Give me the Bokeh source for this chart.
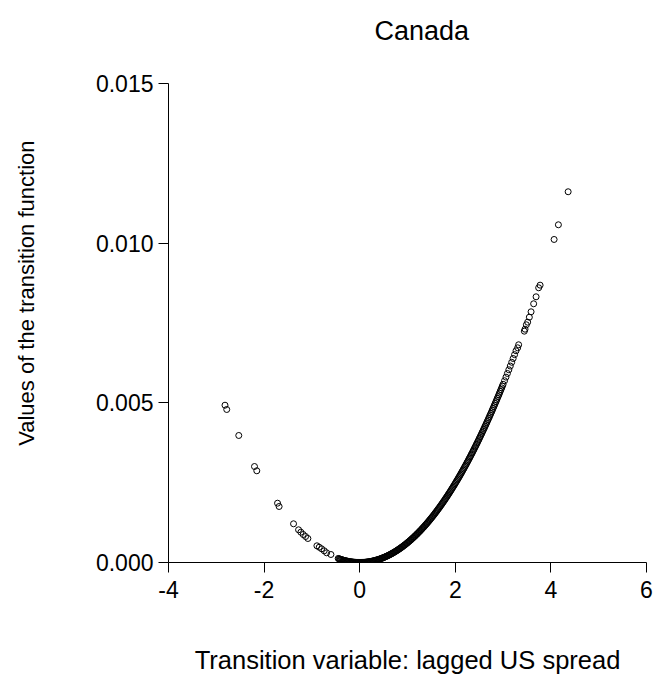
from bokeh.plotting import figure
from bokeh.models import Range1d, FixedTicker, PrintfTickFormatter, Title
from bokeh.embed import file_html
from bokeh.resources import INLINE

# Lagged US spread (transition variable) and the fitted transition function values
spread = [
    -2.818, -2.782, -2.530, -2.201, -2.153, -1.719, -1.686, -1.384, -1.279, -1.231,
    -1.182, -1.132, -1.084, -0.895, -0.847, -0.797, -0.742, -0.692, -0.602,
    -0.45, -0.42, -0.39, -0.36, -0.33, -0.30, -0.27, -0.24, -0.21, -0.18, -0.15,
    -0.12, -0.09, -0.06, -0.03, 0.00, 0.03, 0.06, 0.09, 0.12, 0.15, 0.18, 0.21,
    0.24, 0.27, 0.30, 0.33, 0.36, 0.39, 0.42, 0.45, 0.48, 0.51, 0.54, 0.57, 0.60,
    0.63, 0.66, 0.69, 0.72, 0.75, 0.78, 0.81, 0.84, 0.87, 0.90, 0.93, 0.96, 0.99,
    1.02, 1.05, 1.08, 1.11, 1.14, 1.17, 1.20, 1.23, 1.26, 1.29, 1.32, 1.35, 1.38,
    1.41, 1.44, 1.47, 1.50, 1.53, 1.56, 1.59, 1.62, 1.65, 1.68, 1.71, 1.74, 1.77,
    1.80, 1.83, 1.86, 1.89, 1.92, 1.95, 1.98, 2.01, 2.04, 2.07, 2.10, 2.13, 2.16,
    2.19, 2.22, 2.25, 2.28, 2.31, 2.34, 2.37, 2.40, 2.43, 2.46, 2.49, 2.52, 2.55,
    2.58, 2.61, 2.64, 2.67, 2.70, 2.73, 2.76, 2.79, 2.82, 2.85, 2.88, 2.91, 2.94,
    2.97, 3.00, 3.03, 3.06, 3.09, 3.12, 3.15, 3.18, 3.21, 3.24, 3.27,
    3.304, 3.325, 3.444, 3.459, 3.486, 3.514, 3.549, 3.585, 3.639, 3.690, 3.744,
    3.774, 4.067, 4.157, 4.361,
]

transition = [
    0.004926, 0.004792, 0.003978, 0.003006, 0.002872, 0.001857, 0.001754, 0.001212, 0.001024, 0.000949,
    0.000877, 0.000814, 0.000752, 0.000523, 0.000479, 0.000429, 0.000366, 0.000304, 0.000251,
    0.000126, 0.000109, 0.0000943, 0.0000804, 0.0000675, 0.0000558, 0.0000452, 0.0000357, 0.0000273, 0.0000201, 0.0000140,
    0.0000089, 0.0000050, 0.0000022, 0.0000006, 0.0, 0.0000006, 0.0000022, 0.0000050, 0.0000089, 0.0000140, 0.0000201, 0.0000273,
    0.0000357, 0.0000452, 0.0000558, 0.0000675, 0.0000804, 0.0000943, 0.000109, 0.000126, 0.000143, 0.000161, 0.000181, 0.000201, 0.000223,
    0.000246, 0.000270, 0.000295, 0.000321, 0.000349, 0.000377, 0.000407, 0.000437, 0.000469, 0.000502, 0.000536, 0.000571, 0.000608,
    0.000645, 0.000684, 0.000723, 0.000764, 0.000806, 0.000849, 0.000893, 0.000938, 0.000984, 0.001032, 0.001080, 0.001130, 0.001181,
    0.001233, 0.001286, 0.001340, 0.001395, 0.001451, 0.001509, 0.001567, 0.001627, 0.001688, 0.001750, 0.001813, 0.001877, 0.001942,
    0.002009, 0.002076, 0.002145, 0.002215, 0.002286, 0.002358, 0.002431, 0.002505, 0.002580, 0.002657, 0.002734, 0.002813, 0.002893,
    0.002974, 0.003056, 0.003139, 0.003223, 0.003308, 0.003395, 0.003482, 0.003571, 0.003661, 0.003752, 0.003844, 0.003937, 0.004032,
    0.004127, 0.004224, 0.004321, 0.004420, 0.004520, 0.004621, 0.004723, 0.004826, 0.004930, 0.005036, 0.005143, 0.005250, 0.005359,
    0.005469, 0.005580, 0.005692, 0.005805, 0.005920, 0.006035, 0.006152, 0.006270, 0.006389, 0.006509, 0.006630,
    0.006724, 0.006818, 0.007244, 0.007306, 0.007444, 0.007526, 0.007682, 0.007851, 0.008102, 0.008321, 0.008603,
    0.008685, 0.010116, 0.010576, 0.011610,
]

# Further observations inside the dense part of the curve
spread_more = [
    -0.435, -0.405, -0.375, -0.345, -0.315, -0.285, -0.255, -0.225, -0.195, -0.165,
    -0.135, -0.105, -0.075, -0.045, -0.015, 0.015, 0.045, 0.075, 0.105, 0.135,
    0.165, 0.195, 0.225, 0.255, 0.285, 0.315, 0.345, 0.375, 0.405, 0.435,
    0.465, 0.495, 0.525, 0.555, 0.585, 0.615, 0.645, 0.675, 0.705, 0.735,
    0.765, 0.795, 0.825, 0.855, 0.885, 0.915, 0.945, 0.975, 1.005, 1.035,
    1.065, 1.095, 1.125, 1.155, 1.185, 1.215, 1.245, 1.275, 1.305, 1.335,
    1.365, 1.395, 1.425, 1.455, 1.485, 1.515, 1.545, 1.575, 1.605, 1.635,
    1.665, 1.695, 1.725, 1.755, 1.785, 1.815, 1.845, 1.875, 1.905, 1.935,
    1.965, 1.995, 2.025, 2.055, 2.085, 2.115, 2.145, 2.175, 2.205, 2.235,
    2.265, 2.295, 2.325, 2.355, 2.385, 2.415, 2.445, 2.475, 2.505, 2.535,
    2.565, 2.595, 2.625, 2.655, 2.685, 2.715, 2.745, 2.775, 2.805, 2.835,
    2.865, 2.895, 2.925, 2.955, 2.985,
]

transition_more = [
    0.0001173, 0.0001017, 0.0000872, 0.0000738, 0.0000615, 0.0000504, 0.0000403, 0.0000314, 0.0000236, 0.0000169,
    0.0000113, 0.0000068, 0.0000035, 0.0000013, 0.0000001, 0.0000001, 0.0000013, 0.0000035, 0.0000068, 0.0000113,
    0.0000169, 0.0000236, 0.0000314, 0.0000403, 0.0000504, 0.0000615, 0.0000738, 0.0000872, 0.0001017, 0.0001173,
    0.0001341, 0.0001519, 0.0001709, 0.0001910, 0.0002122, 0.0002345, 0.0002579, 0.0002825, 0.0003082, 0.0003349,
    0.0003628, 0.0003919, 0.0004220, 0.0004532, 0.0004856, 0.0005191, 0.0005537, 0.0005894, 0.0006262, 0.0006642,
    0.0007032, 0.0007434, 0.0007847, 0.0008271, 0.0008706, 0.0009153, 0.0009610, 0.0010079, 0.0010559, 0.0011050,
    0.0011552, 0.0012065, 0.0012590, 0.0013126, 0.0013672, 0.0014230, 0.0014800, 0.0015380, 0.0015971, 0.0016574,
    0.0017188, 0.0017813, 0.0018449, 0.0019096, 0.0019755, 0.0020424, 0.0021105, 0.0021797, 0.0022500, 0.0023214,
    0.0023940, 0.0024676, 0.0025424, 0.0026183, 0.0026953, 0.0027734, 0.0028526, 0.0029330, 0.0030145, 0.0030970,
    0.0031807, 0.0032656, 0.0033515, 0.0034385, 0.0035267, 0.0036160, 0.0037064, 0.0037979, 0.0038905, 0.0039843,
    0.0040791, 0.0041751, 0.0042722, 0.0043704, 0.0044697, 0.0045702, 0.0046717, 0.0047744, 0.0048782, 0.0049831,
    0.0050891, 0.0051962, 0.0053045, 0.0054139, 0.0055243,
]

x_ticks = [-4, -2, 0, 2, 4, 6]
y_ticks = [0.0, 0.005, 0.010, 0.015]

title_text = "Canada"
x_label = "Transition variable: lagged US spread"
y_label = "Values of the transition function"

FONT = "Liberation Sans"

p = figure(
    width=656, height=686,
    output_backend="svg", toolbar_location=None,
    x_range=Range1d(-4, 6), y_range=Range1d(0, 0.015),
    min_border_left=168, min_border_right=10,
    min_border_top=83, min_border_bottom=124,
)
p.outline_line_color = None
p.grid.visible = False
p.background_fill_color = "white"
p.border_fill_color = "white"

p.scatter(spread + spread_more, transition + transition_more,
          marker="circle", size=6,
          fill_color=None, line_color="black", line_width=1)

for ax in (p.xaxis[0], p.yaxis[0]):
    ax.axis_line_color = "black"
    ax.axis_line_width = 1
    ax.major_tick_line_color = "black"
    ax.major_tick_out = 10
    ax.major_tick_in = 0
    ax.minor_tick_out = 0
    ax.minor_tick_in = 0
    ax.major_label_text_font = FONT
    ax.major_label_text_font_size = "23px"
    ax.major_label_text_color = "black"

p.xaxis.ticker = FixedTicker(ticks=x_ticks)
p.xaxis.formatter = PrintfTickFormatter(format="%d")
p.xaxis.major_label_standoff = 8
p.yaxis.ticker = FixedTicker(ticks=y_ticks)
p.yaxis.formatter = PrintfTickFormatter(format="%.3f")
p.yaxis.major_label_standoff = 5

p.xaxis.axis_label = x_label
p.xaxis.axis_label_text_font = FONT
p.xaxis.axis_label_text_font_size = "25.5px"
p.xaxis.axis_label_text_font_style = "normal"
p.xaxis.axis_label_text_color = "black"
p.xaxis.axis_label_standoff = 45

# Chart title, offset to the right of the frame centre; the trailing blank
# line lifts it away from the top of the frame
p.title = Title(text=title_text + "\n", align="left", offset=206,
                vertical_align="bottom", standoff=15,
                text_font=FONT, text_font_size="27px",
                text_font_style="normal", text_color="black")

# Vertical axis title, shifted towards the top of the frame
p.add_layout(Title(text=y_label + "\n\n", align="right", offset=57,
                   vertical_align="top", standoff=4,
                   text_font=FONT, text_font_size="22px",
                   text_font_style="normal", text_color="black"), "left")

open("out.html", "w").write(file_html(p, INLINE))
